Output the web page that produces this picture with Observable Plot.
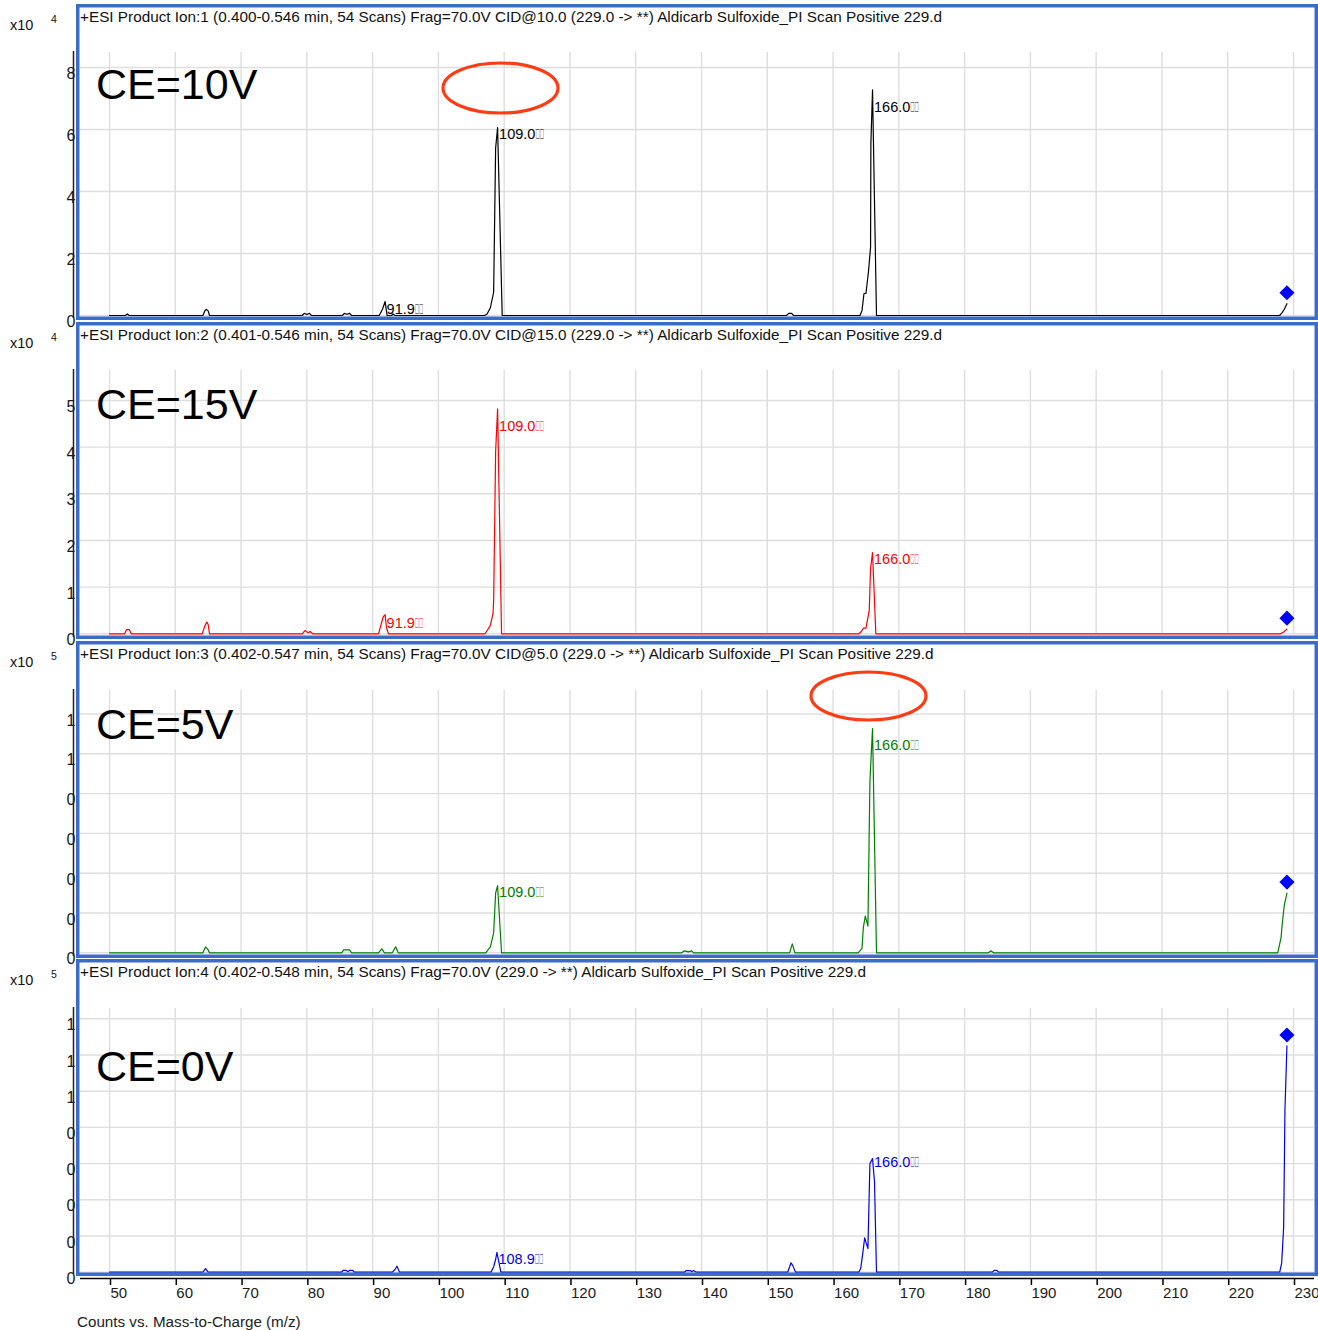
<!DOCTYPE html>
<html><head><meta charset="utf-8">
<script src="https://cdn.jsdelivr.net/npm/d3@7"></script>
<script src="https://cdn.jsdelivr.net/npm/@observablehq/plot@0.6"></script>
<style>
body{margin:0;background:#fff;}
#root{position:relative;width:1318px;height:1330px;overflow:hidden;background:#fff;}
#root > svg{position:absolute;left:0;}
</style></head><body><div id="root"></div>
<script>
// ---------- data ----------
const xTicks = [50,60,70,80,90,100,110,120,130,140,150,160,170,180,190,200,210,220,230];
const panelTitles = [
  "+ESI Product Ion:1 (0.400-0.546 min, 54 Scans) Frag=70.0V CID@10.0 (229.0 -> **) Aldicarb Sulfoxide_PI Scan Positive 229.d",
  "+ESI Product Ion:2 (0.401-0.546 min, 54 Scans) Frag=70.0V CID@15.0 (229.0 -> **) Aldicarb Sulfoxide_PI Scan Positive 229.d",
  "+ESI Product Ion:3 (0.402-0.547 min, 54 Scans) Frag=70.0V CID@5.0 (229.0 -> **) Aldicarb Sulfoxide_PI Scan Positive 229.d",
  "+ESI Product Ion:4 (0.402-0.548 min, 54 Scans) Frag=70.0V (229.0 -> **) Aldicarb Sulfoxide_PI Scan Positive 229.d"
];
const ceLabels = ["CE=10V","CE=15V","CE=5V","CE=0V"];
const exponents = ["4","4","5","5"];
const traceColors = ["#000000","#ff0000","#008000","#0000ee"];
const xAxisTitle = "Counts vs. Mass-to-Charge (m/z)";
const precursorMz = 229.0;

// CE=10V, counts x10^4
const yTicks10 = [0,2,4,6,8];
const trace10 = [[50,0],[52.4,0],[52.7,0.05],[53.0,0],[64.2,0],[64.5,0.15],[64.7,0.2],[65.0,0.15],[65.2,0],
  [79.3,0],[79.6,0.07],[80.0,0.03],[80.4,0.07],[80.7,0],[85.4,0],[85.7,0.07],[86.1,0.04],[86.5,0.07],[86.8,0],
  [91.0,0],[91.5,0.2],[91.9,0.45],[92.2,0],[92.9,0],[93.1,0.05],[93.4,0],
  [107.0,0],[107.4,0.05],[107.9,0.25],[108.4,0.75],[108.7,5.4],[109.0,6.06],[109.7,0],
  [152.9,0],[153.3,0.07],[153.7,0.07],[154.0,0],
  [164.1,0],[164.4,0.16],[164.7,0.71],[165.0,0.71],[165.4,1.45],[165.7,2.2],[165.75,5.54],[166.0,7.28],[166.6,0],
  [227.9,0],[228.3,0.1],[228.6,0.2],[229.0,0.38]];
const peaks10 = [{mz:91.9,i:0.39},{mz:109.0,i:6.03},{mz:166.0,i:6.9}];
const precursor10 = [{mz:precursorMz,i:0.38}];

// CE=15V, counts x10^4
const yTicks15 = [0,1,2,3,4,5];
const trace15 = [[50,0],[52.3,0],[52.6,0.09],[53.0,0.09],[53.3,0],[64.1,0],[64.5,0.17],[64.8,0.25],[65.0,0.2],[65.2,0],
  [79.3,0],[79.7,0.07],[80.2,0.02],[80.5,0.05],[80.9,0],[90.9,0],[91.6,0.36],[91.9,0.41],[92.1,0.14],[92.4,0],
  [107.1,0],[107.9,0.18],[108.3,0.43],[108.4,0.71],[108.7,3.9],[109.0,4.82],[109.6,0],
  [163.9,0],[164.3,0.05],[164.6,0.12],[165.0,0.12],[165.5,0.5],[165.7,1.4],[166.0,1.74],[166.5,0],
  [228.0,0],[228.5,0.04],[229.0,0.1]];
const peaks15 = [{mz:91.9,i:0.35},{mz:109.0,i:4.57},{mz:166.0,i:1.72}];
const precursor15 = [{mz:precursorMz,i:0.1}];

// CE=5V, counts x10^5
const yTicks5 = [0,0.2,0.4,0.6,0.8,1.0,1.2];
const trace5 = [[50,0],[64.2,0],[64.6,0.029],[64.9,0.02],[65.2,0],[85.3,0],[85.6,0.015],[86.5,0.015],[86.8,0],
  [90.9,0],[91.4,0.02],[91.8,0],[93.0,0],[93.5,0.03],[93.9,0],
  [107.2,0],[107.9,0.03],[108.4,0.1],[108.7,0.3],[109.0,0.337],[109.6,0],
  [137.0,0],[137.4,0.01],[138.0,0.005],[138.5,0.01],[138.8,0],[153.4,0],[153.8,0.045],[154.2,0],
  [163.8,0],[164.4,0.022],[164.6,0.126],[164.9,0.184],[165.3,0.134],[165.6,0.86],[166.0,1.127],[166.6,0],
  [183.6,0],[184.0,0.01],[184.4,0],[227.6,0],[228.1,0.075],[228.3,0.15],[228.6,0.24],[229.0,0.3]];
const peaks5 = [{mz:109.0,i:0.333},{mz:166.0,i:1.072}];
const precursor5 = [{mz:precursorMz,i:0.3}];

// CE=0V, counts x10^5
const yTicks0 = [0,0.2,0.4,0.6,0.8,1.0,1.2,1.4];
const trace0 = [[50,0],[64.2,0],[64.6,0.02],[65.0,0],[85.3,0],[85.5,0.01],[86.0,0.01],[86.2,0.003],[86.5,0.01],[87.0,0.01],[87.2,0],
  [93.0,0],[93.4,0.015],[93.7,0.033],[94.1,0],[108.0,0],[108.4,0.03],[108.7,0.07],[108.9,0.11],[109.5,0],
  [137.4,0],[137.7,0.009],[138.3,0.009],[138.5,0.003],[138.8,0.009],[139.2,0],
  [153.1,0],[153.4,0.03],[153.6,0.052],[153.9,0.035],[154.3,0],
  [163.9,0],[164.2,0.02],[164.5,0.1],[164.8,0.19],[165.3,0.13],[165.6,0.6],[166.0,0.628],[166.3,0.5],[166.6,0],
  [184.2,0],[184.5,0.01],[184.9,0.01],[185.2,0],[227.9,0],[228.2,0.05],[228.5,0.25],[228.7,0.9],[229.0,1.25]];
const peaks0 = [{mz:108.9,i:0.103},{mz:166.0,i:0.639}];
const precursor0 = [{mz:precursorMz,i:1.25}];

// ---------- layout ----------
const W = 1318;
const FONT = "'Liberation Sans', Arial, sans-serif";
const BOX = "\uE000\uE000";
const xDomain = [45.59, 233.19];
const panels = [
  {top:4,   bottom:320,  gridTop:52,   base:315,    ymax:8.484, ticks:yTicks10, trace:trace10, peaks:peaks10, prec:precursor10, ceY:99.3},
  {top:322, bottom:639,  gridTop:370,  base:633.3,  ymax:5.642, ticks:yTicks15, trace:trace15, peaks:peaks15, prec:precursor15, ceY:419.3},
  {top:641, bottom:958,  gridTop:690,  base:952.3,  ymax:1.318, ticks:yTicks5,  trace:trace5,  peaks:peaks5,  prec:precursor5,  ceY:739.3},
  {top:959, bottom:1276, gridTop:1008, base:1271.7, ymax:1.457, ticks:yTicks0,  trace:trace0,  peaks:peaks0,  prec:precursor0,  ceY:1080.7}
];
const root = document.getElementById("root");
const tickFmt = d => String(+d.toFixed(1))[0];

panels.forEach((p, k) => {
  const color = traceColors[k];
  const svg = Plot.plot({
    width: W, height: p.bottom - p.top,
    marginLeft: 80, marginRight: 4,
    marginTop: p.gridTop - p.top, marginBottom: p.bottom - p.base,
    x: {domain: xDomain, axis: null},
    y: {domain: [0, p.ymax], axis: null},
    style: {fontFamily: FONT, background: "transparent", overflow: "visible"},
    marks: [
      Plot.gridX(xTicks, {stroke: "#dedede", strokeOpacity: 1, strokeWidth: 1.4}),
      Plot.gridY(p.ticks, {stroke: "#dedede", strokeOpacity: 1, strokeWidth: 1.4}),
      Plot.axisY(p.ticks, {anchor: "left", label: null, tickSize: 0, tickPadding: 5, fontSize: 16, dy: 6.5, tickFormat: tickFmt, fill: "#1a1a1a"}),
      Plot.line(p.trace, {x: d => d[0], y: d => d[1], stroke: color, strokeWidth: 1.2}),
      Plot.text(p.peaks, {x: "mz", y: "i", text: d => d.mz.toFixed(1) + BOX, textAnchor: "start", lineAnchor: "top", dx: 1.5, fill: color, fontSize: 14.5}),
      Plot.dot(p.prec, {x: "mz", y: "i", symbol: "diamond2", r: 6.8, fill: "#0000ff", stroke: "none", dy: -11})
    ]
  });
  // render the unprintable suffix as narrow boxes (as in the source software)
  svg.querySelectorAll("text").forEach(t => {
    const s = t.textContent;
    if (s.endsWith(BOX)) {
      t.textContent = s.slice(0, -BOX.length);
      const ts = document.createElementNS("http://www.w3.org/2000/svg", "tspan");
      ts.textContent = BOX;
      ts.setAttribute("textLength", "8.5");
      ts.setAttribute("lengthAdjust", "spacingAndGlyphs");
      t.appendChild(ts);
    }
  });
  svg.style.top = p.top + "px";
  root.appendChild(svg);
});

// bottom x axis
const axisSvg = Plot.plot({
  width: W, height: 40, marginLeft: 80, marginRight: 4, marginTop: 2, marginBottom: 34,
  x: {domain: xDomain, axis: null},
  y: {domain: [0, 1], axis: null},
  style: {fontFamily: FONT, background: "transparent", overflow: "visible"},
  marks: [
    Plot.ruleY([0], {stroke: "#000", strokeWidth: 1.5}),
    Plot.axisX(xTicks, {anchor: "bottom", label: null, tickSize: 7, tickPadding: 2, fontSize: 15, textAnchor: "start", dx: 1, strokeWidth: 1.5, stroke: "#000", fill: "#1a1a1a", tickFormat: d => String(d)})
  ]
});
axisSvg.style.top = "1272px";
root.appendChild(axisSvg);

// overlay: frames, titles, exponents, CE labels, circles
const ov = d3.select(root).append("svg")
  .attr("width", W).attr("height", 1330)
  .style("position", "absolute").style("top", "0px").style("left", "0px")
  .style("font-family", FONT);
panels.forEach((p, k) => {
  ov.append("line").attr("x1", 73.5).attr("x2", 73.5).attr("y1", p.gridTop - 1).attr("y2", p.bottom - 2)
    .attr("stroke", "#222").attr("stroke-width", 1.5);
  ov.append("rect").attr("x", 77.75).attr("y", p.top + 1.75)
    .attr("width", W - 76 - 3.5).attr("height", p.bottom - p.top - 3.5)
    .attr("fill", "none").attr("stroke", "#3a6cc8").attr("stroke-width", 3.5);
  ov.append("text").attr("x", 80).attr("y", p.top + 18).attr("font-size", 15.3).attr("fill", "#111").text(panelTitles[k]);
  ov.append("text").attr("x", 10).attr("y", p.top + 26).attr("font-size", 14.5).attr("fill", "#111").text("x10");
  ov.append("text").attr("x", 51).attr("y", p.top + 19.3).attr("font-size", 10.5).attr("fill", "#111").text(exponents[k]);
  ov.append("text").attr("x", 96).attr("y", p.ceY).attr("font-size", 43).attr("fill", "#000").text(ceLabels[k]);
});
ov.append("ellipse").attr("cx", 500.5).attr("cy", 88).attr("rx", 57.5).attr("ry", 25)
  .attr("fill", "none").attr("stroke", "#ff3b14").attr("stroke-width", 3.2);
ov.append("ellipse").attr("cx", 868.5).attr("cy", 696).attr("rx", 57.5).attr("ry", 24)
  .attr("fill", "none").attr("stroke", "#ff3b14").attr("stroke-width", 3.2);
ov.append("text").attr("x", 77).attr("y", 1326.5).attr("font-size", 15.2).attr("fill", "#222").text(xAxisTitle);
</script>
</body></html>
